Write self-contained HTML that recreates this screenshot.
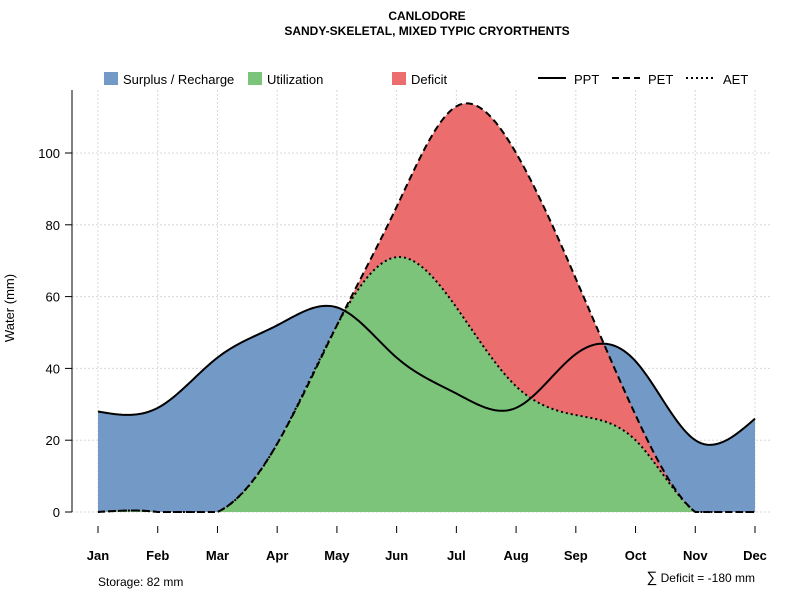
<!DOCTYPE html>
<html><head><meta charset="utf-8">
<style>
body{margin:0;background:#fff;font-family:"Liberation Sans",sans-serif;}
svg text{font-family:"Liberation Sans",sans-serif;}
</style></head>
<body>
<svg id="chart" width="800" height="600" viewBox="0 0 800 600" xmlns="http://www.w3.org/2000/svg">
<text x="427" y="20" text-anchor="middle" font-size="12" font-weight="bold">CANLODORE</text>
<text x="427" y="35" text-anchor="middle" font-size="12" font-weight="bold">SANDY-SKELETAL, MIXED TYPIC CRYORTHENTS</text>
<g id="grid"></g>
<g id="areas"></g>
<g id="lines"></g>
<g id="axes"></g>
<g font-size="13">
 <rect x="104" y="72" width="14" height="13" fill="#7399c6"/>
 <text x="123" y="84">Surplus / Recharge</text>
 <rect x="248" y="72" width="14" height="13" fill="#7dc47b"/>
 <text x="267" y="84">Utilization</text>
 <rect x="392" y="72" width="14" height="13" fill="#eb6d6d"/>
 <text x="411" y="84">Deficit</text>
 <line x1="538" y1="78" x2="566" y2="78" stroke="#000" stroke-width="2"/>
 <text x="574" y="84">PPT</text>
 <line x1="612" y1="78" x2="640" y2="78" stroke="#000" stroke-width="2" stroke-dasharray="7,4"/>
 <text x="648" y="84">PET</text>
 <line x1="686" y1="78" x2="714" y2="78" stroke="#000" stroke-width="2" stroke-dasharray="2,3"/>
 <text x="723" y="84">AET</text>
</g>
<text transform="translate(14,308) rotate(-90)" text-anchor="middle" font-size="13">Water (mm)</text>
<text x="98" y="586" font-size="12">Storage: 82 mm</text>
<text x="755" y="582" text-anchor="end" font-size="12"><tspan font-size="15">∑</tspan> Deficit = -180 mm</text>
</svg>
<script>
const months=["Jan","Feb","Mar","Apr","May","Jun","Jul","Aug","Sep","Oct","Nov","Dec"];
const ppt=[28,29,43,52,57,43,33,29,44,42,20,26];
const pet=[0,0,0,19,52,85,113,100,65,27,0,0];
const aet=[0,0,0,19,52,71,57,35,27,20,0,0];
const yTicks=[0,20,40,60,80,100];
const NS="http://www.w3.org/2000/svg";
const x=i=>98+i*(755-98)/11;
const y=v=>512-v*3.59;
function mk(p,t,a){const e=document.createElementNS(NS,t);for(const k in a)e.setAttribute(k,a[k]);p.appendChild(e);return e;}
function curve(v){
 const n=v.length,M=new Array(n).fill(0);
 const a=[],b=[],c=[],r=[];
 for(let i=1;i<n-1;i++){a.push(1);b.push(4);c.push(1);r.push(6*(v[i+1]-2*v[i]+v[i-1]));}
 const m=r.length;
 for(let i=1;i<m;i++){const w=a[i]/b[i-1];b[i]-=w*c[i-1];r[i]-=w*r[i-1];}
 const s=new Array(m);s[m-1]=r[m-1]/b[m-1];
 for(let i=m-2;i>=0;i--)s[i]=(r[i]-c[i]*s[i+1])/b[i];
 for(let i=0;i<m;i++)M[i+1]=s[i];
 const pts=[];
 for(let i=0;i<n-1;i++)for(let k=0;k<20;k++){const t=k/20;
  const val=M[i]*(1-t)**3/6+M[i+1]*t**3/6+(v[i]-M[i]/6)*(1-t)+(v[i+1]-M[i+1]/6)*t;
  pts.push([x(i+t),y(Math.max(0,val))]);}
 pts.push([x(n-1),y(v[n-1])]);return pts;
}
const grid=document.getElementById('grid'),areas=document.getElementById('areas'),lines=document.getElementById('lines'),axes=document.getElementById('axes');
months.forEach((mo,i)=>{const g=mk(grid,'line',{x1:x(i),x2:x(i),y1:90,y2:512,stroke:'#d8d8d8','stroke-dasharray':'2,2'});
 });
yTicks.forEach(v=>{const g=mk(grid,'line',{x1:72,x2:770,y1:y(v),y2:y(v),stroke:'#d8d8d8','stroke-dasharray':'2,2'});
 });
function area(vals,fill,name){const p=curve(vals);const d='M'+p.map(q=>q.join(',')).join('L')+'L'+x(vals.length-1)+','+y(0)+'L'+x(0)+','+y(0)+'Z';
 const e=mk(areas,'path',{d,fill});}
area(ppt,'#7399c6','surplus-area');area(pet,'#eb6d6d','deficit-area');area(aet,'#7dc47b','utilization-area');
function line(vals,dash,name){const p=curve(vals);const e=mk(lines,'path',{d:'M'+p.map(q=>q.join(',')).join('L'),fill:'none',stroke:'#000','stroke-width':2,'stroke-dasharray':dash});
 }
line(aet,'2,3','aet-line');line(pet,'7,4','pet-line');line(ppt,'none','ppt-line');
const ya=mk(axes,'line',{x1:72,x2:72,y1:90,y2:512,stroke:'#000'});
yTicks.forEach(v=>{const t=mk(axes,'line',{x1:65,x2:72,y1:y(v),y2:y(v),stroke:'#000'});
 const l=mk(axes,'text',{x:60,y:y(v)+5,'text-anchor':'end','font-size':13});l.textContent=v;});
months.forEach((mo,i)=>{const t=mk(axes,'line',{x1:x(i),x2:x(i),y1:526,y2:533,stroke:'#000'});
 const l=mk(axes,'text',{x:x(i),y:560,'text-anchor':'middle','font-size':13,'font-weight':'bold'});l.textContent=mo;});
</script>
</body></html>
